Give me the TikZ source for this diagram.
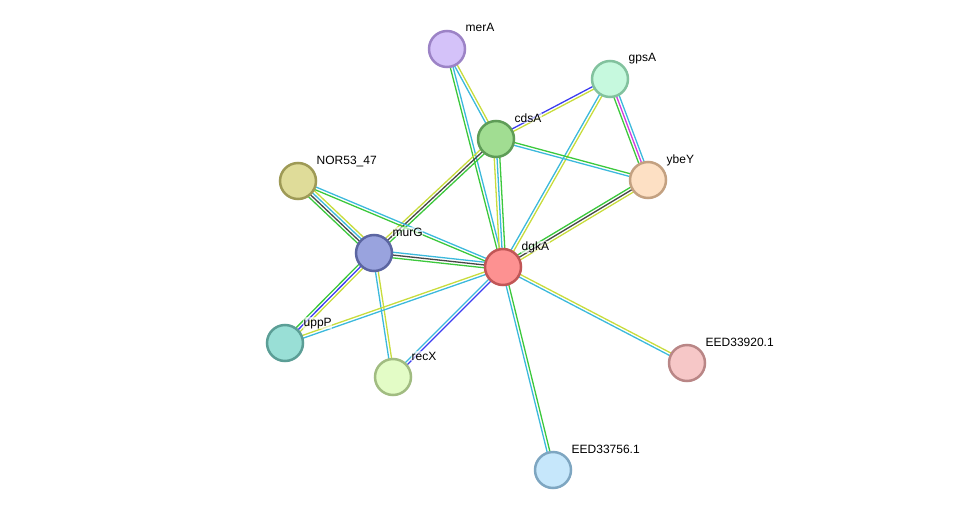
\documentclass[tikz,border=0pt]{standalone}
\usepackage{fontspec}
\setmainfont{Liberation Sans}
\usetikzlibrary{calc,backgrounds}

% evidence colours
\definecolor{evgreen}{HTML}{3CC83C}
\definecolor{evcyan}{HTML}{3CB9DC}
\definecolor{evyellow}{HTML}{C8DC3C}
\definecolor{evblack}{HTML}{474747}
\definecolor{evblue}{HTML}{3C3CF0}
\definecolor{evmagenta}{HTML}{D23CDC}

% protein colours (fill / rim)
\definecolor{merAf}{HTML}{D4C2F9}\definecolor{merAd}{HTML}{9C83C6}
\definecolor{gpsAf}{HTML}{C6F9DE}\definecolor{gpsAd}{HTML}{82C29E}
\definecolor{cdsAf}{HTML}{A1DD92}\definecolor{cdsAd}{HTML}{5E9C57}
\definecolor{ybeYf}{HTML}{FDE0C4}\definecolor{ybeYd}{HTML}{C3A181}
\definecolor{NORf}{HTML}{DFDC99}\definecolor{NORd}{HTML}{9E9A56}
\definecolor{murGf}{HTML}{99A3DE}\definecolor{murGd}{HTML}{5B65A1}
\definecolor{dgkAf}{HTML}{FD9191}\definecolor{dgkAd}{HTML}{C15656}
\definecolor{uppPf}{HTML}{99DFD6}\definecolor{uppPd}{HTML}{5B9E96}
\definecolor{recXf}{HTML}{E3FCC6}\definecolor{recXd}{HTML}{A1BC81}
\definecolor{EEDaf}{HTML}{F6C7C7}\definecolor{EEDad}{HTML}{B98686}
\definecolor{EEDbf}{HTML}{C6E7FB}\definecolor{EEDbd}{HTML}{7EA6C1}

\tikzset{
  prot/.style={circle,draw=#1d,fill=#1f,line width=2.5pt,minimum size=36pt,inner sep=0pt},
  lbl/.style={anchor=base west,inner sep=0.5pt,font=\fontsize{12}{12}\selectfont,
              fill=white,fill opacity=0.6,text opacity=1},
  ev/.style={line width=1.3pt}
}

% #1,#2 nodes, #3 number of lines, #4 colours (first one on the right of #1->#2)
\newcommand{\evlink}[4]{%
  \foreach \evcol [count=\k] in {#4}{%
    \pgfmathsetmacro{\evoff}{(\k-(#3+1)/2)*2.8}
    \draw[ev,draw=\evcol] ($(#1)!\evoff pt!90:(#2)$) -- ($(#2)!\evoff pt!-90:(#1)$);
  }}

\begin{document}
\begin{tikzpicture}[x=1pt,y=-1pt]
  \useasboundingbox (0,0) rectangle (976,516);

  \node[prot=merA] (merA) at (447,49) {};
  \node[prot=gpsA] (gpsA) at (610,79) {};
  \node[prot=cdsA] (cdsA) at (496,139) {};
  \node[prot=ybeY] (ybeY) at (648,180) {};
  \node[prot=NOR] (NOR) at (298,181) {};
  \node[prot=murG] (murG) at (374,253) {};
  \node[prot=dgkA] (dgkA) at (503,267) {};
  \node[prot=uppP] (uppP) at (285,343) {};
  \node[prot=recX] (recX) at (393,377) {};
  \node[prot=EEDa] (EEDa) at (687,363) {};
  \node[prot=EEDb] (EEDb) at (553,470) {};

  \begin{pgfonlayer}{background}
    \evlink{merA}{dgkA}{2}{evgreen,evcyan}
    \evlink{merA}{cdsA}{2}{evcyan,evyellow}
    \evlink{cdsA}{gpsA}{2}{evyellow,evblue}
    \evlink{gpsA}{ybeY}{3}{evgreen,evmagenta,evcyan}
    \evlink{gpsA}{dgkA}{2}{evcyan,evyellow}
    \evlink{cdsA}{ybeY}{2}{evcyan,evgreen}
    \evlink{cdsA}{dgkA}{3}{evyellow,evcyan,evgreen}
    \evlink{cdsA}{murG}{3}{evyellow,evblack,evgreen}
    \evlink{ybeY}{dgkA}{3}{evgreen,evblack,evyellow}
    \evlink{NOR}{murG}{4}{evgreen,evblack,evcyan,evyellow}
    \evlink{NOR}{dgkA}{2}{evgreen,evcyan}
    \evlink{murG}{dgkA}{3}{evgreen,evblack,evcyan}
    \evlink{murG}{uppP}{3}{evgreen,evblue,evyellow}
    \evlink{murG}{recX}{2}{evcyan,evyellow}
    \evlink{uppP}{dgkA}{2}{evcyan,evyellow}
    \evlink{recX}{dgkA}{2}{evblue,evcyan}
    \evlink{dgkA}{EEDa}{2}{evcyan,evyellow}
    \evlink{dgkA}{EEDb}{2}{evcyan,evgreen}
  \end{pgfonlayer}

  \node[lbl] (merA-l) at ($(merA)+(18,-17)$) {merA};
  \node[lbl] (gpsA-l) at ($(gpsA)+(18,-17)$) {gpsA};
  \node[lbl] (cdsA-l) at ($(cdsA)+(18,-17)$) {cdsA};
  \node[lbl] (ybeY-l) at ($(ybeY)+(18,-17)$) {ybeY};
  \node[lbl] (NOR-l) at ($(NOR)+(18,-17)$) {NOR53\_47};
  \node[lbl] (murG-l) at ($(murG)+(18,-17)$) {murG};
  \node[lbl] (dgkA-l) at ($(dgkA)+(18,-17)$) {dgkA};
  \node[lbl] (uppP-l) at ($(uppP)+(18,-17)$) {uppP};
  \node[lbl] (recX-l) at ($(recX)+(18,-17)$) {recX};
  \node[lbl] (EEDa-l) at ($(EEDa)+(18,-17)$) {EED33920.1};
  \node[lbl] (EEDb-l) at ($(EEDb)+(18,-17)$) {EED33756.1};
\end{tikzpicture}
\end{document}
